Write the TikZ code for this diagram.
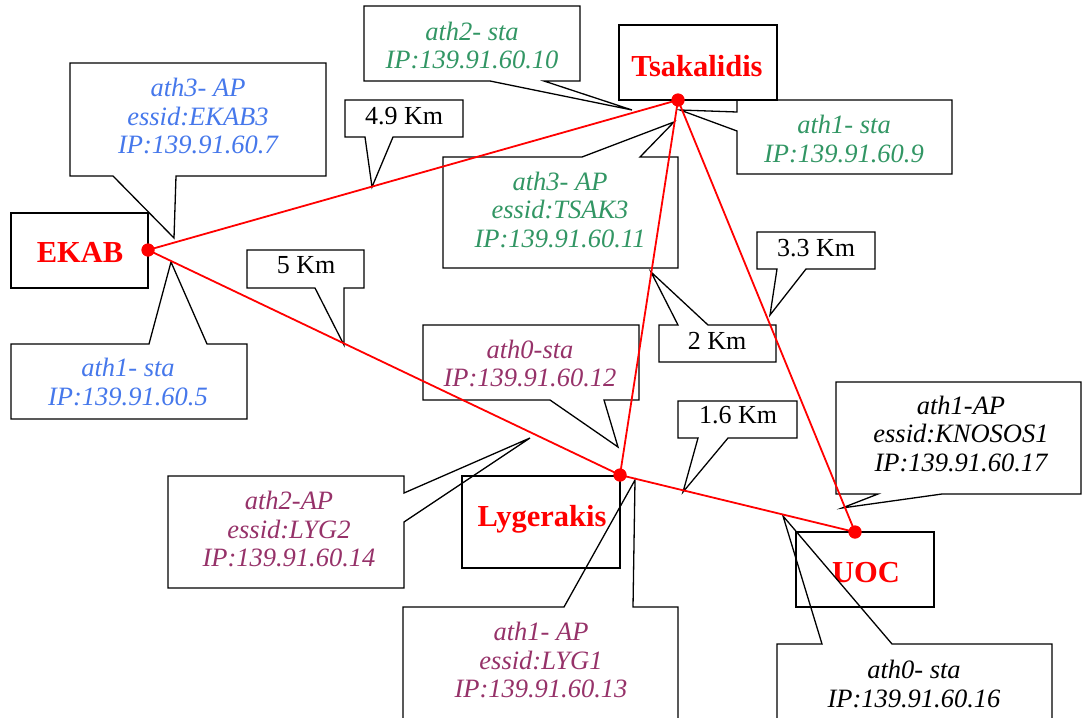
\documentclass[tikz,border=0pt]{standalone}
\usepackage{fontspec}
\setmainfont{Liberation Serif}
\definecolor{ekabblue}{RGB}{70,120,235}
\definecolor{tsakgreen}{RGB}{50,150,100}
\definecolor{lygpurple}{RGB}{150,50,105}
\begin{document}
\begin{tikzpicture}[x=1pt,y=-1pt,
  outl/.style={draw=black,line width=1.3pt,line join=miter},
  info/.style={font=\fontsize{26.5}{28.5}\selectfont\itshape,align=center,inner sep=0pt},
  dist/.style={font=\fontsize{26}{28}\selectfont,inner sep=0pt,anchor=base},
  site/.style={font=\fontsize{30.5}{34}\selectfont\bfseries,text=red,inner sep=0pt,anchor=base},
  sitebox/.style={draw=black,line width=1.3pt,inner sep=0pt},
  dot/.style={circle,fill=red,draw=none,minimum size=13pt,inner sep=0pt},
  link/.style={draw=red,line width=1.8pt}]
\useasboundingbox (0,0) rectangle (1083,717);
\clip (0,0) rectangle (1083,717);

% site boxes
\node[sitebox,minimum width=137pt,minimum height=75pt] (ekabbox) at (79.5,250.5) {};
\node[sitebox,minimum width=158pt,minimum height=75pt] (tsakbox) at (698,62.5) {};
\node[sitebox,minimum width=158pt,minimum height=92pt] (lygbox) at (541,522) {};
\node[sitebox,minimum width=138pt,minimum height=75pt] (uocbox) at (865,569.5) {};
\node[site] (ekab) at (80,262) {EKAB};
\node[site] (tsak) at (697,76) {Tsakalidis};
\node[site] (lyg) at (542,526) {Lygerakis};
\node[site] (uoc) at (866,582) {UOC};

% callout outlines
\draw[outl] (70,63) -- (326,63) -- (326,176) -- (176,176) -- (174,238) -- (113,176) -- (70,176) -- cycle;
\draw[outl] (11,344) -- (149,344) -- (171,262) -- (207,344) -- (247,344) -- (247,419) -- (11,419) -- cycle;
\draw[outl] (345,100) -- (463,100) -- (463,137) -- (393,137) -- (372,187) -- (365,137) -- (345,137) -- cycle;
\draw[outl] (247,250) -- (364,250) -- (364,288) -- (344,288) -- (344,345) -- (315,288) -- (247,288) -- cycle;
\draw[outl] (364,6) -- (580,6) -- (580,81) -- (544,81) -- (632,110) -- (490,81) -- (364,81) -- cycle;
\draw[outl] (737,100) -- (952,100) -- (952,174) -- (737,174) -- (737,131) -- (680,110) -- (737,112) -- cycle;
\draw[outl] (443,157) -- (582,157) -- (674,122) -- (640,157) -- (678,157) -- (678,268) -- (443,268) -- cycle;
\draw[outl] (659,325) -- (678,325) -- (651,272) -- (708,325) -- (776,325) -- (776,362) -- (659,362) -- cycle;
\draw[outl] (757,232) -- (875,232) -- (875,269) -- (806,269) -- (770,315) -- (777,269) -- (757,269) -- cycle;
\draw[outl] (678,401) -- (797,401) -- (797,438) -- (728,438) -- (683,492) -- (698,438) -- (678,438) -- cycle;
\draw[outl] (836,382) -- (1081,382) -- (1081,494) -- (942,494) -- (842,508) -- (878,494) -- (836,494) -- cycle;
\draw[outl] (777,730) -- (777,644) -- (822,644) -- (783,516) -- (892,644) -- (1052,644) -- (1052,730);
\draw[outl] (423,325) -- (639,325) -- (639,400) -- (604,400) -- (618,447) -- (550,400) -- (423,400) -- cycle;
\draw[outl] (168,476) -- (404,476) -- (404,493) -- (530,438) -- (404,522) -- (404,588) -- (168,588) -- cycle;
\draw[outl] (403,730) -- (403,607) -- (564,607) -- (635,480) -- (633,607) -- (678,607) -- (678,730);

% callout texts
\node[info,text=ekabblue] (e3) at (198,116) {ath3- AP\\essid:EKAB3\\IP:139.91.60.7};
\node[info,text=ekabblue] (e1) at (128,382) {ath1- sta\\IP:139.91.60.5};
\node[info,text=tsakgreen] (t2) at (472,45.5) {ath2- sta\\IP:139.91.60.10};
\node[info,text=tsakgreen] (t1) at (844,139) {ath1- sta\\IP:139.91.60.9};
\node[info,text=tsakgreen] (t3) at (560,209.5) {ath3- AP\\essid:TSAK3\\IP:139.91.60.11};
\node[info,text=lygpurple] (l0) at (530,363.5) {ath0-sta\\IP:139.91.60.12};
\node[info,text=lygpurple] (l2) at (289,529) {ath2-AP\\essid:LYG2\\IP:139.91.60.14};
\node[info,text=lygpurple] (l1) at (541,660) {ath1- AP\\essid:LYG1\\IP:139.91.60.13};
\node[info,text=black] (u1) at (961,433.5) {ath1-AP\\essid:KNOSOS1\\IP:139.91.60.17};
\node[info,text=black] (u0) at (914,684) {ath0- sta\\IP:139.91.60.16};

% distance labels
\node[dist] (d49) at (404,124) {4.9 Km};
\node[dist] (d5) at (306,273) {5 Km};
\node[dist] (d2) at (717,349) {2 Km};
\node[dist] (d33) at (816,256) {3.3 Km};
\node[dist] (d16) at (738,423) {1.6 Km};

% sites (dots) and links
\node[dot] (pe) at (148,250) {};
\node[dot] (pt) at (678,100) {};
\node[dot] (pl) at (620,475) {};
\node[dot] (pu) at (855,532) {};
\draw[link] (pe.center) -- (pt.center);
\draw[link] (pe.center) -- (pl.center);
\draw[link] (pl.center) -- (pt.center);
\draw[link] (pl.center) -- (pu.center);
\draw[link] (pt.center) -- (pu.center);
\node[dot] at (pe) {};
\node[dot] at (pt) {};
\node[dot] at (pl) {};
\node[dot] at (pu) {};
\end{tikzpicture}
\end{document}
